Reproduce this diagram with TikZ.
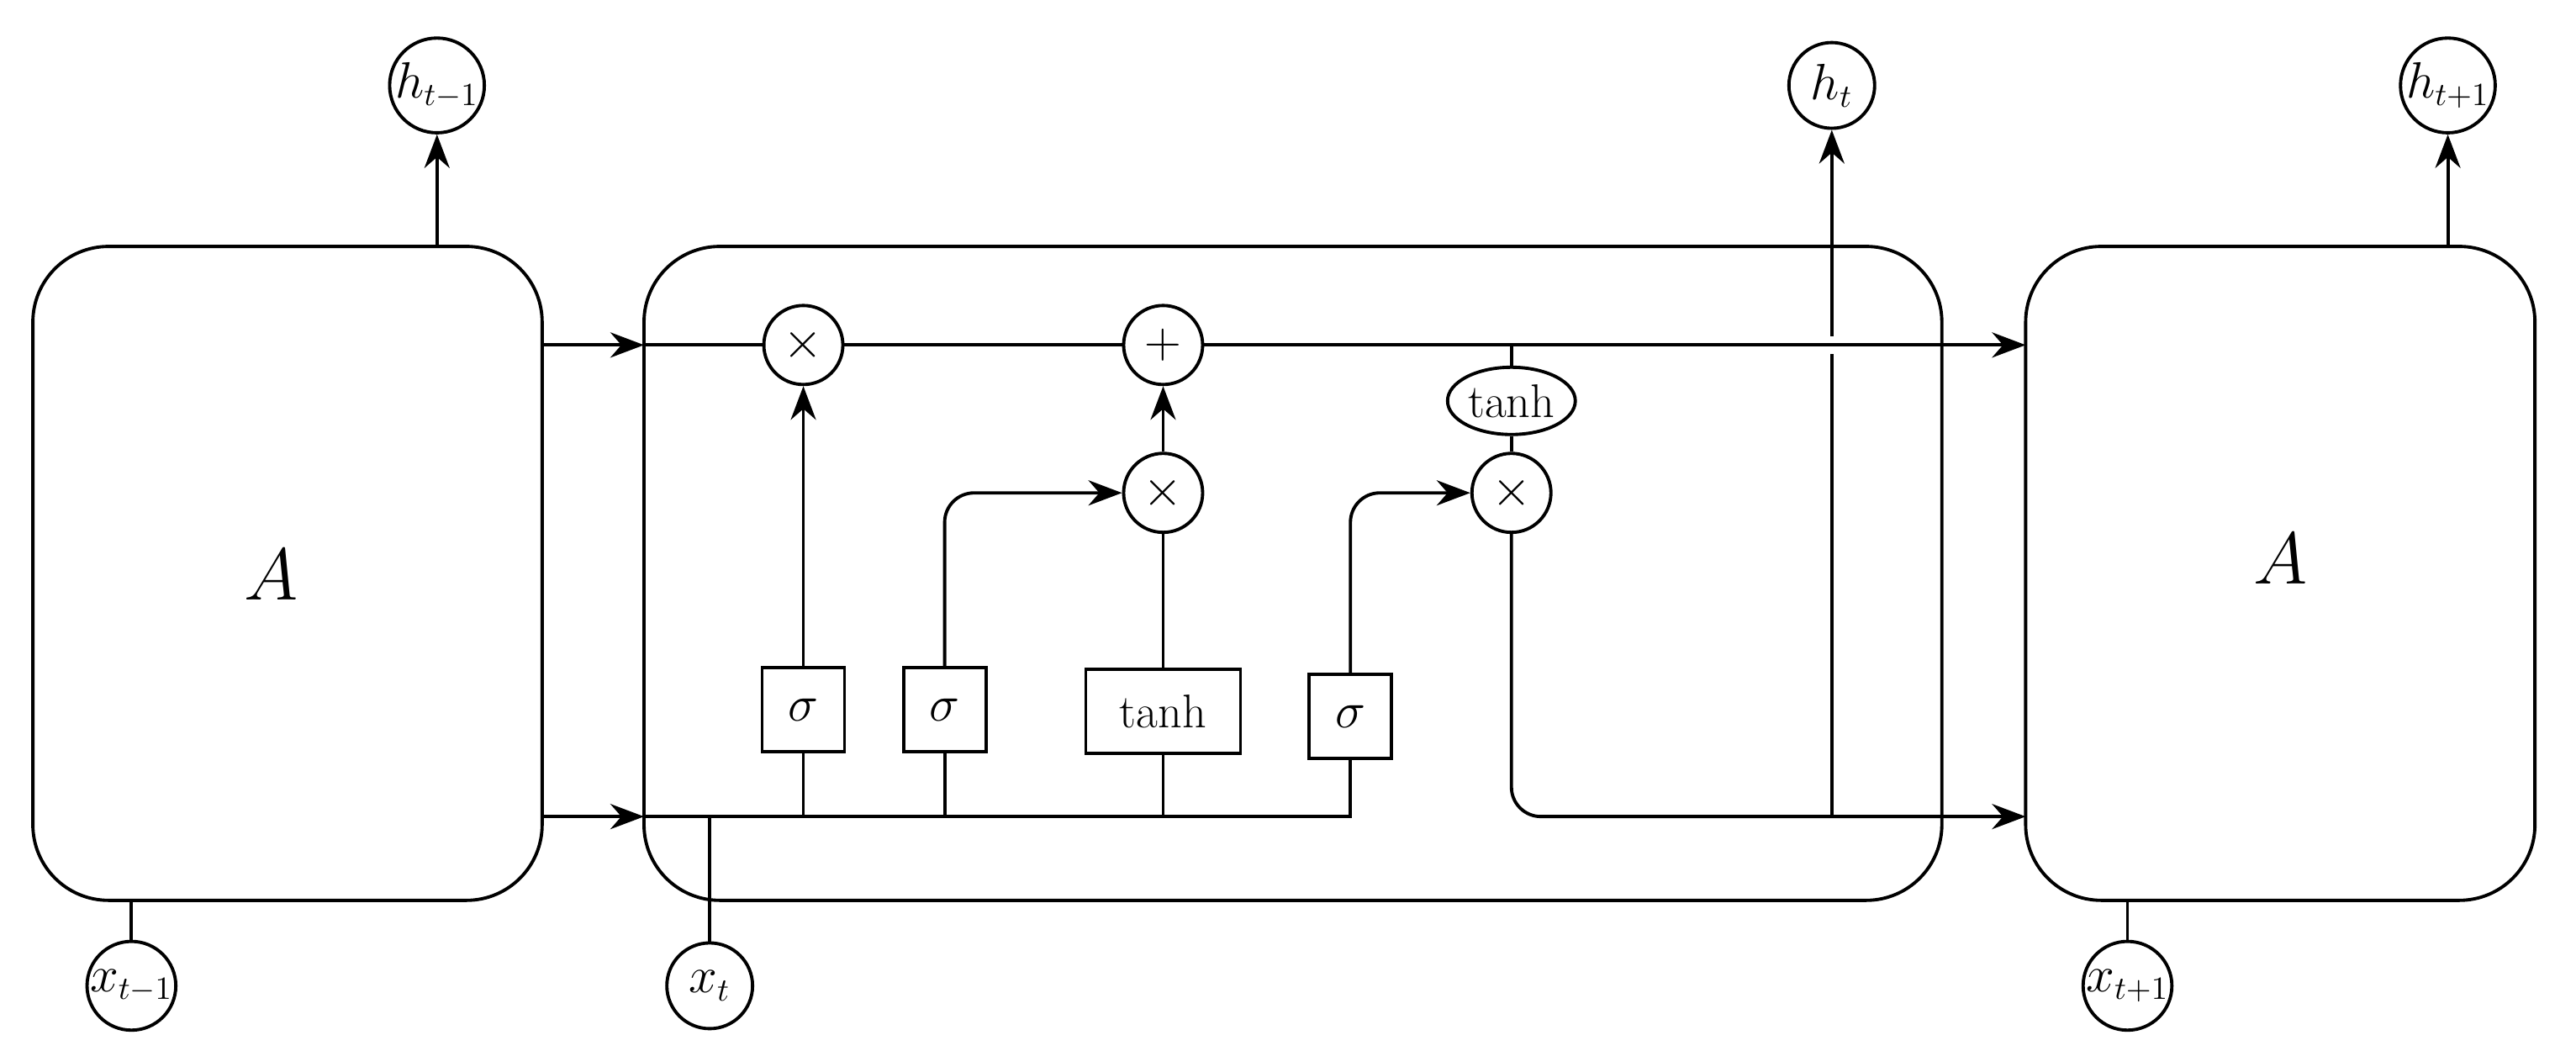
\documentclass[tikz,border=0pt]{standalone}
\usetikzlibrary{arrows.meta,shapes.geometric}
\begin{document}
\begin{tikzpicture}[x=0.01954cm,y=-0.01954cm,line width=1.1pt,
  font=\fontsize{16}{18}\selectfont,
  arr/.style={-{Stealth[length=0.4cm,width=0.3cm]}},
  cell/.style={draw,rounded corners=0.9cm,minimum width=#1*0.01954cm,minimum height=398*0.01954cm,inner sep=0},
  io/.style={draw,circle,minimum size=1.02cm,inner sep=0},
  op/.style={draw,circle,minimum size=0.94cm,inner sep=0},
  gate/.style={draw,rectangle,minimum height=1.0cm,minimum width=0.98cm,inner sep=2pt},
  big/.style={font=\fontsize{30}{32}\selectfont},
  rc/.style={rounded corners=0.35cm}]
\useasboundingbox (0,0) rectangle (1568,639.2);
% cells
\node[cell=310] (L) at (175,349) {};
\node[cell=790] (M) at (787,349) {};
\node[cell=310] (R) at (1388,349) {};
\node[big] (LA) at (165,350) {$A$};
\node[big] (RA) at (1388,340) {$A$};
% io
\node[io] (hm) at (266,52) {$h_{t-1}$};
\node[io] (h) at (1115,52) {$h_t$};
\node[io] (hp) at (1490,52) {$h_{t+1}$};
\node[io] (xm) at (80,600) {$x_{t-1}$};
\node[io] (x) at (432,600) {$x_t$};
\node[io] (xp) at (1295,600) {$x_{t+1}$};
% ops
\node[op] (m1) at (489,210) {$\times$};
\node[op] (pl) at (708,210) {$+$};
\node[op] (m2) at (708,300) {$\times$};
\node[op] (m3) at (920,300) {$\times$};
\node[draw,ellipse,minimum width=1.52cm,minimum height=0.8cm,inner sep=0] (th) at (920,244) {tanh};
% gates
\node[gate] (s1) at (489,432) {$\sigma$};
\node[gate] (s2) at (575,432) {$\sigma$};
\node[gate,minimum width=1.84cm] (tb) at (708,433) {tanh};
\node[gate] (s3) at (822,436) {$\sigma$};
% coordinates
\coordinate (ltop) at (330,210);
\coordinate (lbot) at (330,497);
\coordinate (mtop) at (392,210);
\coordinate (mbot) at (392,497);
\coordinate (rtop) at (1233,210);
\coordinate (rbot) at (1233,497);
\coordinate (hj) at (1115,497);
\coordinate (xj) at (432,497);
\coordinate (bend) at (822,497);
\coordinate (tj) at (920,210);
\coordinate (ga) at (1100,210);
\coordinate (gb) at (1130,210);
% outputs
\draw[arr] (266,150) -- (hm);
\draw[arr] (1490,150) -- (hp);
\draw (xm) -- (80,548);
\draw (xp) -- (1295,548);
\draw[arr] (hj) -- (h);
\draw[white,line width=6pt] (ga) -- (gb);
% top line
\draw[arr] (ltop) -- (mtop);
\draw (mtop) -- (m1) -- (pl);
\draw[arr] (pl) -- (rtop);
\draw (tj) -- (th) -- (m3);
% bottom line
\draw[arr] (lbot) -- (mbot);
\draw (x) -- (xj);
\draw (mbot) -- (bend) -- (s3);
\draw (s1) -- (s1 |- mbot);
\draw (s2) -- (s2 |- mbot);
\draw (tb) -- (tb |- mbot);
% gate connections
\draw[arr] (s1) -- (m1);
\draw[arr,rc] (s2) |- (m2);
\draw (tb) -- (m2);
\draw[arr] (m2) -- (pl);
\draw[arr,rc] (s3.north) |- (m3);
\draw[arr,rc] (m3) |- (rbot);
\end{tikzpicture}
\end{document}
